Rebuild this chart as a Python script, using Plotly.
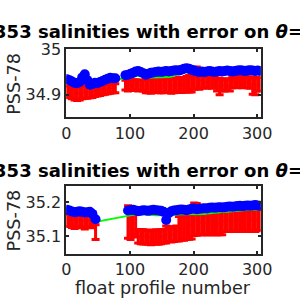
import plotly.graph_objects as go

# ---------------- data: upper panel ----------------
top_profiles = [1, 5, 9, 13, 17, 21, 25, 29, 33, 37, 41, 45, 49, 53, 57, 61, 65, 69, 73, 77,
                85,
                93, 97, 101, 105, 109, 113, 117, 121,
                125, 129, 133, 137, 141, 145, 149, 153, 157, 161, 165, 169, 173, 177, 181, 185, 189, 193, 197,
                201, 205, 209,
                213, 217, 221, 225, 229, 233,
                237, 241,
                245, 249, 253, 257,
                261, 265, 269, 273, 277, 281, 285, 289,
                293, 297, 301, 305]

top_float_sal = [34.934, 34.932, 34.929, 34.926, 34.925, 34.928, 34.938, 34.945, 34.932, 34.922,
                 34.923, 34.926, 34.925, 34.928, 34.930, 34.933, 34.935, 34.937, 34.936, 34.936,
                 None,
                 34.943, 34.944, 34.946, 34.948, 34.951, 34.952, 34.950, 34.947,
                 34.944, 34.946, 34.948, 34.949, 34.950, 34.951, 34.950, 34.951, 34.952, 34.951,
                 34.952, 34.953, 34.954, 34.953, 34.955, 34.957, 34.958, 34.957, 34.955,
                 34.953, 34.951, 34.950,
                 34.951, 34.950, 34.951, 34.952, 34.951, 34.950,
                 34.951, 34.952,
                 34.951, 34.952, 34.953, 34.952,
                 34.951, 34.952, 34.953, 34.954, 34.953, 34.952, 34.953, 34.954,
                 34.953, 34.952, 34.953, 34.952]

top_mapped_sal = [34.907, 34.906, 34.905, 34.903, 34.902, 34.903, 34.905, 34.906, 34.905, 34.906,
                  34.907, 34.908, 34.909, 34.910, 34.911, 34.912, 34.913, 34.913, 34.914, 34.914,
                  None,
                  34.921, 34.920, 34.921, 34.922, 34.921, 34.920, 34.921, 34.920,
                  34.919, 34.920, 34.919, 34.920, 34.921, 34.920, 34.919, 34.920, 34.921, 34.920,
                  34.919, 34.920, 34.921, 34.922, 34.921, 34.922, 34.923, 34.924, 34.926,
                  34.936, 34.937, 34.934,
                  34.928, 34.928, 34.927, 34.928, 34.927, 34.928,
                  34.922, 34.918,
                  34.921, 34.921, 34.922, 34.921,
                  34.927, 34.928, 34.927, 34.928, 34.927, 34.928, 34.927, 34.926,
                  34.920, 34.919, 34.923, 34.922]

top_mapped_err = [0.012, 0.013, 0.014, 0.015, 0.015, 0.015, 0.014, 0.014, 0.013, 0.013,
                  0.013, 0.012, 0.012, 0.012, 0.011, 0.011, 0.011, 0.010, 0.010, 0.010,
                  None,
                  0.011, 0.012, 0.011, 0.011, 0.012, 0.012, 0.011, 0.012,
                  0.015, 0.016, 0.016, 0.015, 0.016, 0.016, 0.015, 0.016, 0.016, 0.015,
                  0.016, 0.016, 0.015, 0.016, 0.016, 0.016, 0.017, 0.018, 0.020,
                  0.024, 0.024, 0.022,
                  0.013, 0.013, 0.013, 0.012, 0.013, 0.013,
                  0.014, 0.018,
                  0.013, 0.013, 0.013, 0.013,
                  0.012, 0.012, 0.012, 0.012, 0.012, 0.012, 0.012, 0.012,
                  0.019, 0.019, 0.015, 0.014]

top_cal_sal = [34.931, 34.930, 34.928, 34.926, 34.925, 34.926, 34.930, 34.933, 34.930, 34.925,
               34.924, 34.925, 34.926, 34.927, 34.929, 34.931, 34.932, 34.933, 34.933, 34.933,
               34.934,
               34.935, 34.936, 34.938, 34.940, 34.941, 34.941, 34.940, 34.939,
               34.938, 34.938, 34.938, 34.938, 34.938, 34.938, 34.938, 34.938, 34.938, 34.939,
               34.940, 34.942, 34.944, 34.946, 34.948, 34.949, 34.950, 34.950, 34.949,
               34.947, 34.945, 34.944,
               34.945, 34.945, 34.945, 34.946, 34.946, 34.945,
               34.945, 34.946,
               34.946, 34.946, 34.947, 34.946,
               34.946, 34.946, 34.947, 34.947, 34.947, 34.946, 34.947, 34.947,
               34.947, 34.946, 34.947, 34.946]

# ---------------- data: lower panel ----------------
bot_profiles = [1, 5, 9, 13, 17, 21, 25, 29, 33, 37, 41, 46,
                73,
                97, 101, 105, 109,
                113, 117, 121, 125, 129, 133, 137, 141, 145, 149, 153,
                157, 161, 165, 169, 173, 177, 181, 185, 189, 193, 197,
                201, 205, 209, 213, 217, 221, 225, 229, 233, 237, 241, 245,
                249, 253, 257, 261, 265, 269, 273, 277, 281, 285, 289, 293, 297, 301,
                305]

bot_float_sal = [35.178, 35.176, 35.173, 35.171, 35.172, 35.174, 35.172, 35.170, 35.171, 35.172, 35.166, 35.150,
                 None,
                 35.176, 35.177, 35.178, 35.176,
                 35.174, 35.175, 35.177, 35.176, 35.175, 35.177, 35.178, 35.177, 35.176, 35.175, 35.172,
                 35.148, 35.168, 35.174, 35.176, 35.177, 35.178, 35.179, 35.178, 35.177, 35.179, 35.181,
                 35.182, 35.180, 35.181, 35.182, 35.183, 35.182, 35.184, 35.185, 35.184, 35.185, 35.186, 35.185,
                 35.186, 35.187, 35.188, 35.187, 35.188, 35.189, 35.190, 35.189, 35.190, 35.191, 35.190, 35.191, 35.192, 35.191,
                 35.190]

bot_mapped_sal = [35.148, 35.147, 35.146, 35.145, 35.146, 35.147, 35.146, 35.145, 35.146, 35.147, 35.146, 35.112,
                  None,
                  35.142, 35.135, 35.140, 35.138,
                  35.100, 35.099, 35.098, 35.097, 35.097, 35.096, 35.097, 35.098, 35.097, 35.098, 35.100,
                  35.105, 35.106, 35.104, 35.106, 35.108, 35.122, 35.124, 35.123, 35.125, 35.127, 35.140,
                  35.150, 35.150, 35.140, 35.139, 35.140, 35.139, 35.138, 35.139, 35.140, 35.139, 35.138, 35.139,
                  35.146, 35.147, 35.146, 35.145, 35.146, 35.147, 35.146, 35.148, 35.147, 35.146, 35.147, 35.146, 35.147, 35.148,
                  35.150]

bot_mapped_err = [0.016, 0.018, 0.020, 0.022, 0.020, 0.019, 0.021, 0.024, 0.020, 0.019, 0.021, 0.022,
                  None,
                  0.048, 0.045, 0.035, 0.040,
                  0.020, 0.021, 0.021, 0.020, 0.021, 0.021, 0.020, 0.021, 0.021, 0.020, 0.020,
                  0.025, 0.022, 0.021, 0.022, 0.022, 0.036, 0.036, 0.035, 0.035, 0.036, 0.048,
                  0.048, 0.047, 0.036, 0.035, 0.036, 0.035, 0.034, 0.035, 0.036, 0.035, 0.034, 0.035,
                  0.032, 0.033, 0.032, 0.031, 0.032, 0.033, 0.032, 0.033, 0.032, 0.031, 0.032, 0.032, 0.033, 0.032,
                  0.030]

bot_cal_sal = [35.172, 35.170, 35.168, 35.166, 35.166, 35.168, 35.167, 35.165, 35.166, 35.166, 35.160, 35.142,
               35.152,
               35.162, 35.163, 35.164, 35.165,
               35.166, 35.166, 35.165, 35.164, 35.163, 35.163, 35.163, 35.162, 35.162, 35.162, 35.162,
               35.162, 35.162, 35.163, 35.164, 35.164, 35.165, 35.165, 35.164, 35.164, 35.165, 35.166,
               35.166, 35.165, 35.164, 35.165, 35.166, 35.167, 35.168, 35.169, 35.170, 35.171, 35.171, 35.171,
               35.172, 35.172, 35.173, 35.173, 35.174, 35.175, 35.176, 35.176, 35.177, 35.178, 35.178, 35.179, 35.180, 35.180,
               35.180]

x_ticks = [0, 100, 200, 300]
top_y_ticks = [34.9, 35.0]
top_y_ticktext = ["34.9", "35"]
bot_y_ticks = [35.1, 35.2]
bot_y_ticktext = ["35.1", "35.2"]

title_text = "3901353 salinities with error on <i>θ</i>=2.5°C"
ylabel_text = "PSS-78"
xlabel_text = "float profile number"

# ---------------- figure ----------------
W = H = 300
fig = go.Figure()

def add_panel(xa, ya, prof, flt, mp, er, cal):
    fig.add_trace(go.Scatter(
        x=prof, y=mp, mode="lines", xaxis=xa, yaxis=ya,
        line=dict(color="#ff0000", width=1), connectgaps=False,
        error_y=dict(type="data", array=er, visible=True, color="#ff0000",
                     thickness=3, width=4),
        showlegend=False, hoverinfo="skip"))
    fig.add_trace(go.Scatter(
        x=prof, y=cal, mode="lines", xaxis=xa, yaxis=ya,
        line=dict(color="#00ff00", width=2), connectgaps=True,
        showlegend=False, hoverinfo="skip"))
    fig.add_trace(go.Scatter(
        x=prof, y=flt, mode="markers", xaxis=xa, yaxis=ya,
        marker=dict(color="#0000ff", size=10, line=dict(width=0)),
        showlegend=False, hoverinfo="skip"))

add_panel("x", "y", top_profiles, top_float_sal, top_mapped_sal, top_mapped_err, top_cal_sal)
add_panel("x2", "y2", bot_profiles, bot_float_sal, bot_mapped_sal, bot_mapped_err, bot_cal_sal)

axcol = "#262626"
tickfont = dict(family="DejaVu Sans", size=16, color=axcol)
common = dict(showline=True, linewidth=2, linecolor=axcol, mirror="ticks",
              ticks="inside", ticklen=3, tickwidth=1.5, tickcolor=axcol,
              showgrid=False, zeroline=False, tickfont=tickfont, fixedrange=True)

x_dom = [65 / W, 271 / W]
top_dom = [1 - 111.7 / H, 1 - 41.5 / H]
bot_dom = [1 - 252.7 / H, 1 - 182.3 / H]

fig.update_layout(
    width=W, height=H,
    margin=dict(l=0, r=0, t=0, b=0, pad=0),
    paper_bgcolor="white", plot_bgcolor="white",
    xaxis=dict(domain=x_dom, anchor="y", range=[0, 305.5], tickvals=x_ticks, **common),
    yaxis=dict(domain=top_dom, anchor="x", range=[34.85, 35.0], tickvals=top_y_ticks,
               ticktext=top_y_ticktext, **common),
    xaxis2=dict(domain=x_dom, anchor="y2", range=[0, 305.5], tickvals=x_ticks, **common),
    yaxis2=dict(domain=bot_dom, anchor="x2", range=[35.047, 35.249], tickvals=bot_y_ticks,
                ticktext=bot_y_ticktext, **common),
)

ann_font = dict(family="DejaVu Sans", size=17.6, color=axcol)
title_font = dict(family="DejaVu Sans", size=18, color="#000000")
annotations = []
for ycen in (23.5, 166.3):
    annotations.append(dict(text="<b>" + title_text + "</b>", x=-65 / W, y=1 - ycen / H,
                            xref="paper", yref="paper", xanchor="left", yanchor="middle",
                            showarrow=False, font=title_font, borderpad=0, borderwidth=0))
for ycen in ((41.5 + 111.7) / 2, (182.3 + 252.7) / 2):
    annotations.append(dict(text=ylabel_text, x=10 / W, y=1 - ycen / H, textangle=-90,
                            xref="paper", yref="paper", xanchor="center", yanchor="middle",
                            showarrow=False, font=ann_font, borderpad=0, borderwidth=0))
annotations.append(dict(text=xlabel_text, x=(65 + 271) / 2 / W, y=1 - 288 / H,
                        xref="paper", yref="paper", xanchor="center", yanchor="middle",
                        showarrow=False, font=ann_font, borderpad=0, borderwidth=0))
fig.update_layout(annotations=annotations)

fig.write_html("out.html", config={"displayModeBar": False})
